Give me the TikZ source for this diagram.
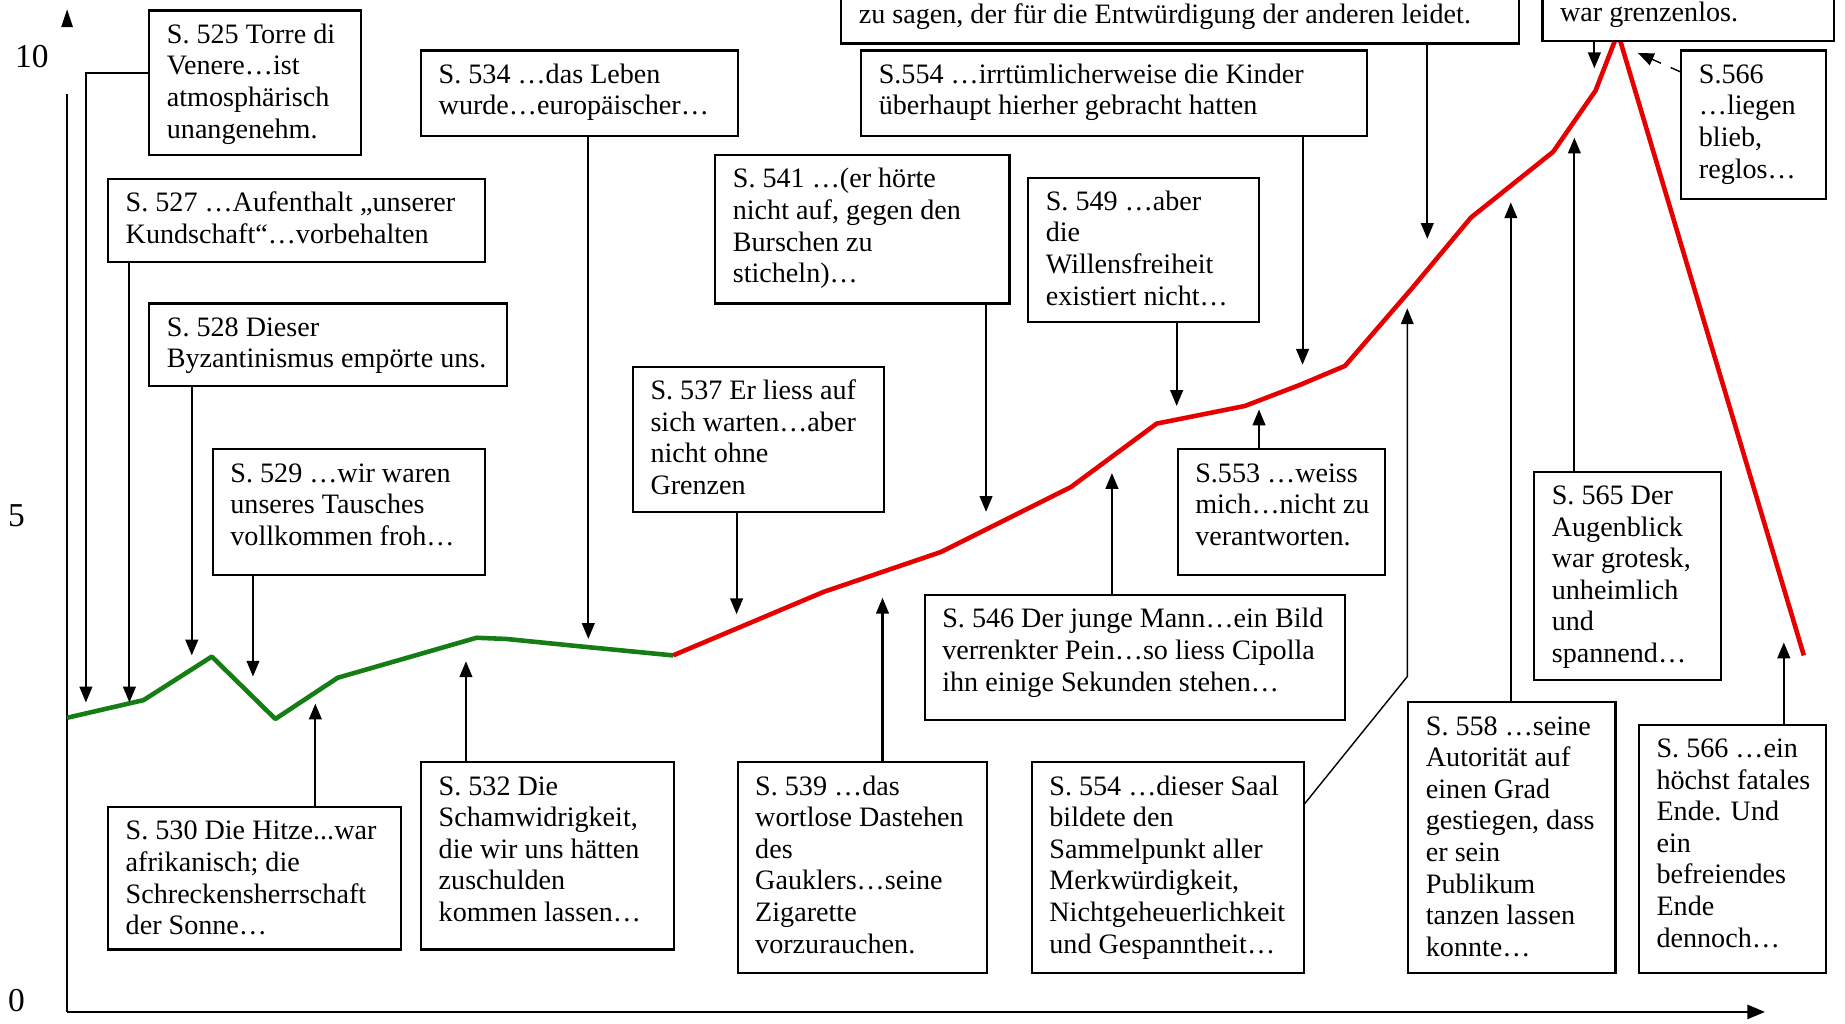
\documentclass[tikz,border=0pt]{standalone}
\usepackage{fontspec}
\setmainfont{Liberation Serif}
\usetikzlibrary{arrows.meta,calc}
\newlength\bxu \setlength\bxu{0.011767cm}
\newlength\bxx \setlength\bxx{5pt}
\newlength\bxy \setlength\bxy{3pt}
\newcommand\tbox[6]{\node[tbox] (#1) at (#2,#3) {\parbox[c][\dimexpr\bxu*\numexpr#5-#3\relax-2\bxy\relax][t]{\dimexpr\bxu*\numexpr#4-#2\relax-2\bxx\relax}{\begin{tabular}[t]{@{}l@{}}#6\end{tabular}}};}
\newcommand\tboxb[6]{\node[tbox] (#1) at (#2,#3) {\parbox[c][\dimexpr\bxu*\numexpr#5-#3\relax-2\bxy\relax][b]{\dimexpr\bxu*\numexpr#4-#2\relax-2\bxx\relax}{\begin{tabular}[b]{@{}l@{}}#6\end{tabular}}};}
\tikzset{
  tbox/.style={draw, line width=0.6pt, anchor=north west, inner xsep=\bxx, inner ysep=\bxy, fill=white, font=\fontsize{8}{9}\selectfont},
  conn/.style={line width=0.6pt, -{Triangle[length=4.5pt,width=3.6pt]}},
  thinconn/.style={line width=0.4pt, -{Triangle[length=4.5pt,width=3.6pt]}},
  axis/.style={line width=0.6pt},
  greencurve/.style={line width=1.3pt, draw={rgb,255:red,20;green,125;blue,20}, line join=round},
  redcurve/.style={line width=1.3pt, draw={rgb,255:red,230;green,0;blue,0}, line join=round},
  ticklab/.style={font=\fontsize{9.5}{11}\selectfont, inner sep=0pt}
}
\begin{document}
\begin{tikzpicture}[x=0.011767cm, y=-0.011767cm]
\useasboundingbox (0,0) rectangle (1568,870);
\clip (0,0) rectangle (1568,870);
\fill[white] (0,0) rectangle (1568,870);

% axes
\coordinate (o) at (57,860);
\coordinate (ytop) at (57,80);
\coordinate (xend) at (1500,860);
\draw[axis] (ytop) -- (o);
\draw[axis, -{Triangle[length=5pt,width=4pt]}] (o) -- (xend);
\fill (57,8) -- (52,23) -- (62,23) -- cycle;
\node[ticklab] (l10) at (27,48) {10};
\node[ticklab] (l5) at (14,438) {5};
\node[ticklab] (l0) at (14,850) {0};

% curve
\draw[greencurve] (57,610) -- (122,595) -- (180,558) -- (234,611) -- (287,576) -- (405,542) -- (430,543) -- (500,550) -- (572,557);
\draw[redcurve] (572,557) -- (700,503) -- (800,469) -- (910,414) -- (983,360) -- (1058,345) -- (1105,327) -- (1143,311) -- (1200,245) -- (1250,185) -- (1320,129) -- (1356,77) -- (1375,28) -- (1533,557);

% arrow targets
\coordinate (t525) at (73,597);
\coordinate (t527) at (110,597);
\coordinate (t528) at (163,557);
\coordinate (t529) at (215,575);
\coordinate (t530) at (268,598);
\coordinate (t532) at (396,562);
\coordinate (t534) at (500,543);
\coordinate (t537) at (626,522);
\coordinate (t539) at (750,508);
\coordinate (t541) at (838,435);
\coordinate (t546) at (945,402);
\coordinate (t549) at (1000,345);
\coordinate (t553) at (1070,348);
\coordinate (t554a) at (1107,310);
\coordinate (t554b) at (1196,262);
\coordinate (k554b) at (1196,575);
\coordinate (ttop1) at (1213,203);
\coordinate (ttop2) at (1355,58);
\coordinate (t566a) at (1392,45);
\coordinate (t565) at (1338,117);
\coordinate (t558) at (1284,172);
\coordinate (t566b) at (1516,546);

% boxes
\tboxb{top1}{714}{-70}{1290}{28}{zu sagen, der für die Entwürdigung der anderen leidet.}
\tboxb{top2}{1310}{-70}{1558}{26}{war grenzenlos.}
\tbox{b525}{126}{8}{306}{131}{S. 525 Torre di\\Venere…ist\\atmosphärisch\\unangenehm.}
\tbox{b527}{91}{151}{411}{222}{S. 527 …Aufenthalt „unserer\\Kundschaft“…vorbehalten}
\tbox{b528}{126}{257}{430}{327}{S. 528 Dieser\\Byzantinismus empörte uns.}
\tbox{b529}{180}{381}{411}{488}{S. 529 …wir waren\\unseres Tausches\\vollkommen froh…}
\tbox{b530}{91}{685}{340}{806}{S. 530 Die Hitze...war\\afrikanisch; die\\Schreckensherrschaft\\der Sonne…}
\tbox{b532}{357}{647}{572}{806}{S. 532 Die\\Schamwidrigkeit,\\die wir uns hätten\\zuschulden\\kommen lassen…}
\tbox{b534}{357}{42}{626}{115}{S. 534 …das Leben\\wurde…europäischer…}
\tbox{b537}{537}{311}{750}{434}{S. 537 Er liess auf\\sich warten…aber\\nicht ohne\\Grenzen}
\tbox{b539}{626}{647}{838}{826}{S. 539 …das\\wortlose Dastehen\\des\\Gauklers…seine\\Zigarette\\vorzurauchen.}
\tbox{b541}{607}{131}{857}{257}{S. 541 …(er hörte\\nicht auf, gegen den\\Burschen zu\\sticheln)…}
\tbox{b546}{785}{505}{1142}{611}{S. 546 Der junge Mann…ein Bild\\verrenkter Pein…so liess Cipolla\\ihn einige Sekunden stehen…}
\tbox{b549}{873}{150}{1069}{273}{S. 549 …aber\\die\\Willensfreiheit\\existiert nicht…}
\tbox{b553}{1000}{381}{1176}{488}{S.553 …weiss\\mich…nicht zu\\verantworten.}
\tbox{b554a}{731}{42}{1161}{115}{S.554 …irrtümlicherweise die Kinder\\überhaupt hierher gebracht hatten}
\tbox{b554b}{876}{647}{1107}{826}{S. 554 …dieser Saal\\bildete den\\Sammelpunkt aller\\Merkwürdigkeit,\\Nichtgeheuerlichkeit\\und Gespanntheit…}
\tbox{b558}{1196}{596}{1372}{826}{S. 558 …seine\\Autorität auf\\einen Grad\\gestiegen, dass\\er sein\\Publikum\\tanzen lassen\\konnte…}
\tbox{b565}{1303}{400}{1462}{577}{S. 565 Der\\Augenblick\\war grotesk,\\unheimlich\\und\\spannend…}
\tbox{b566a}{1428}{42}{1551}{168}{S.566\\…liegen\\blieb,\\reglos…}
\tbox{b566b}{1392}{615}{1551}{826}{S. 566 …ein\\höchst fatales\\Ende. Und\\ein\\befreiendes\\Ende\\dennoch…}

% connectors
\draw[conn] ($(b525.north west)+(0,54)$) -| (t525);
\draw[conn] (b527.south -| t527) -- (t527);
\draw[conn] (b528.south -| t528) -- (t528);
\draw[conn] (b529.south -| t529) -- (t529);
\draw[conn] (b530.north -| t530) -- (t530);
\draw[conn] (b532.north -| t532) -- (t532);
\draw[conn] (b534.south -| t534) -- (t534);
\draw[conn] (b537.south -| t537) -- (t537);
\draw[conn] (b539.north -| t539) -- (t539);
\draw[conn] (b541.south -| t541) -- (t541);
\draw[conn] (b546.north -| t546) -- (t546);
\draw[conn] (b549.south -| t549) -- (t549);
\draw[conn] (b553.north -| t553) -- (t553);
\draw[conn] (b554a.south -| t554a) -- (t554a);
\draw[thinconn] ($(b554b.north east)+(0,36)$) -- (k554b) -- (t554b);
\draw[conn] (top1.south -| ttop1) -- (ttop1);
\draw[conn] (top2.south -| ttop2) -- (ttop2);
\draw[thinconn, dashed] ($(b566a.north west)+(0,19)$) -- (t566a);
\draw[conn] (b565.north -| t565) -- (t565);
\draw[conn] (b558.north -| t558) -- (t558);
\draw[conn] (b566b.north -| t566b) -- (t566b);
\end{tikzpicture}
\end{document}
